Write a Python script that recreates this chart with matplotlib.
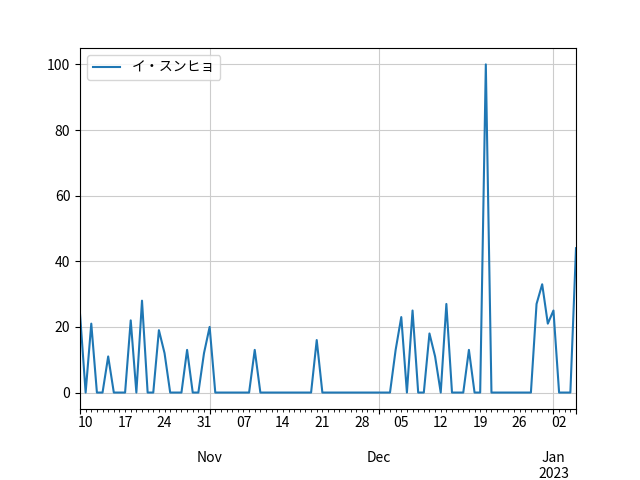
import pandas as pd
import matplotlib
matplotlib.use("Agg")
import matplotlib.pyplot as plt

plt.rcParams['font.family'] = ['Noto Sans CJK JP', 'DejaVu Sans']

# daily counts, 2022-10-09 .. 2023-01-05
dates = pd.date_range("2022-10-09", "2023-01-05", freq="D")
counts = [24, 0, 21, 0, 0, 11, 0, 0, 0, 22,
          0, 28, 0, 0, 19, 12, 0, 0, 0, 13,
          0, 0, 12, 20, 0, 0, 0, 0, 0, 0,
          0, 13, 0, 0, 0, 0, 0, 0, 0, 0,
          0, 0, 16, 0, 0, 0, 0, 0, 0, 0,
          0, 0, 0, 0, 0, 0, 13, 23, 0, 25,
          0, 0, 18, 11, 0, 27, 0, 0, 0, 13,
          0, 0, 100, 0, 0, 0, 0, 0, 0, 0,
          0, 27, 33, 21, 25, 0, 0, 0, 44]
label = "イ・スンヒョ"

s = pd.Series(counts, index=dates, name=label)

fig, ax = plt.subplots(figsize=(6.4, 4.8), dpi=100)
fig.subplots_adjust(left=0.125, right=0.9, bottom=0.148, top=0.9)
s.plot(ax=ax, grid=True, legend=True, color="#1f77b4")
ax.grid(True, color="#cccccc")
ax.set_xlabel("")
ax.legend(loc="upper left")

fig.savefig("out.png", dpi=100)
